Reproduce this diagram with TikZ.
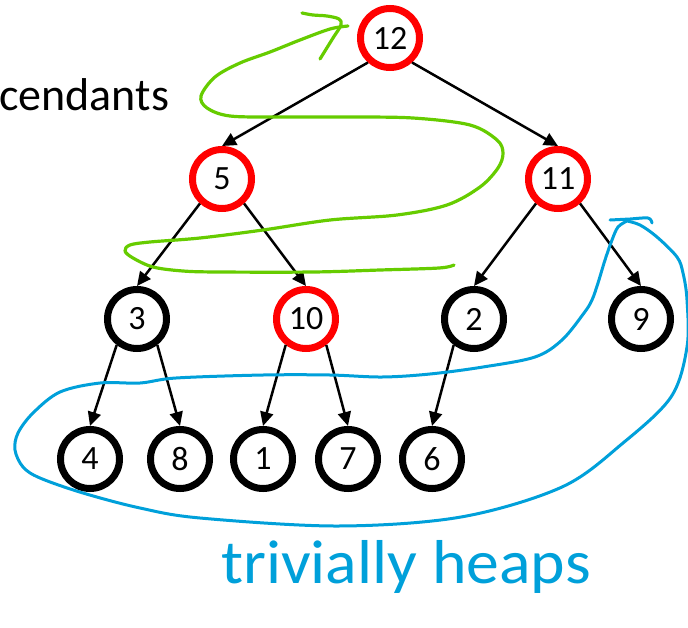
\documentclass[tikz,border=0pt]{standalone}
\usepackage{fontspec}
\setmainfont{Carlito}
\usetikzlibrary{arrows.meta}
\definecolor{heapred}{RGB}{255,0,0}
\definecolor{inkgreen}{RGB}{102,204,0}
\definecolor{inkblue}{RGB}{0,160,218}

\begin{document}
\begin{tikzpicture}[x=1pt,y=-1pt,
  keynode/.style={circle, draw=black, line width=7pt, minimum size=59pt,
    inner sep=0pt, font=\fontsize{34}{34}\selectfont},
  maxnode/.style={keynode, draw=heapred},
  link/.style={line width=2.5pt, -{Triangle[length=14pt,width=13pt]}},
  greenink/.style={draw=inkgreen, line width=3.2pt, line cap=round, line join=round},
  blueink/.style={draw=inkblue, line width=3pt, line cap=round, line join=round}]
\useasboundingbox (0,0) rectangle (688,627);

% caption fragment
\node[anchor=base west, inner sep=0pt, font=\fontsize{46}{46}\selectfont] (caption) at (-1,110) {cendants};

% heap nodes
\node[maxnode] (n12) at (390,38) {12};
\node[maxnode] (n5)  at (222,179) {5};
\node[maxnode] (n11) at (558,179) {11};
\node[keynode] (n3)  at (137,319) {3};
\node[maxnode] (n10) at (306,319) {10};
\node[keynode] (n2)  at (474,319) {2};
\node[keynode] (n9)  at (641,319) {9};
\node[keynode] (n4)  at (90,459) {4};
\node[keynode] (n8)  at (180,459) {8};
\node[keynode] (n1)  at (263,459) {1};
\node[keynode] (n7)  at (348,459) {7};
\node[keynode] (n6)  at (432,459) {6};

% parent -> child links
\draw[link] (n12.228) -- (n5.north);
\draw[link] (n12.312) -- (n11.north);
\draw[link] (n5.228) -- (n3.north);
\draw[link] (n5.312) -- (n10.north);
\draw[link] (n11.228) -- (n2.north);
\draw[link] (n11.312) -- (n9.north);
\draw[link] (n3.232) -- (n4.north);
\draw[link] (n3.308) -- (n8.north);
\draw[link] (n10.232) -- (n1.north);
\draw[link] (n10.308) -- (n7.north);
\draw[link] (n2.232) -- (n6.north);

% green sweep, bottom-up towards the root
\draw[greenink] plot[smooth, tension=0.55] coordinates {
  (454,265) (439,268) (380,270) (313,272) (219,272) (183,271) (153,267)
  (133,258) (125,251) (130,245) (150,242) (200,238) (263,230) (330,220)
  (397,215) (447,205) (480,187) (498,168) (503,153) (497,140) (470,125)
  (413,118) (347,117) (280,117) (230,116) (207,108) (201,96) (215,77)
  (240,63) (270,52) (300,40) (330,29) (348,26)};
\draw[greenink] plot[smooth, tension=0.55] coordinates {
  (302,13) (313,15) (327,16) (339,19) (341,25) (333,38) (320,59)};

% blue loop round the leaves
\draw[blueink] plot[smooth, tension=0.55] coordinates {
  (627,221) (618,227) (612,240) (605,260) (598,283) (592,300) (584,313)
  (562,340) (535,357) (483,367) (430,374) (382,377) (330,375) (263,375)
  (176,378) (140,383) (100,383) (60,392) (33,413) (18,433) (15,450)
  (23,467) (40,478) (83,493) (140,508) (200,518) (338,526) (461,517)
  (562,487) (623,443) (671,397) (687,347) (687,300) (683,273) (677,257)
  (657,237) (640,225) (627,221)};
\draw[blueink] plot[smooth, tension=0.55] coordinates {
  (610,220) (630,219) (648,218) (652,223)};

% handwritten note
\node[anchor=base west, inner sep=0pt, text=inkblue,
  font=\fontsize{62}{62}\selectfont] (note) at (221,583) {\scalebox{1.06}[1]{trivially heaps}};
\end{tikzpicture}
\end{document}
